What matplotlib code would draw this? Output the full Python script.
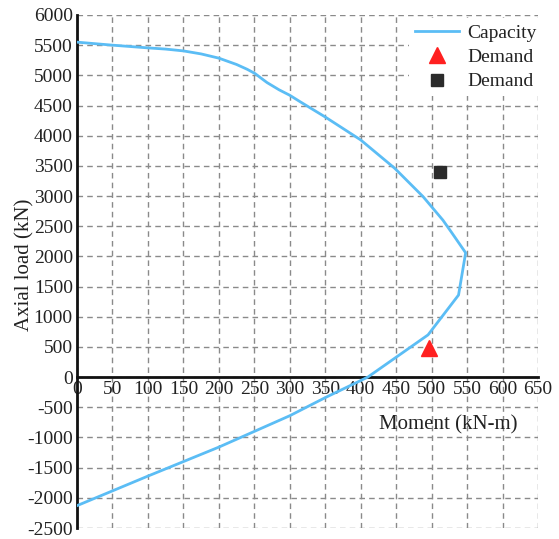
import matplotlib
matplotlib.use("Agg")
import matplotlib.pyplot as plt

# Capacity curve (moment kN-m, axial load kN)
cap_moment = [0, 50, 100, 125, 150, 175, 200, 225, 240, 251, 260, 268, 285,
              300, 315, 350, 400, 448, 488, 516, 528, 548, 538, 495, 410, 350,
              300, 200, 100, 0]
cap_axial = [5550, 5500, 5455, 5435, 5405, 5355, 5285, 5180, 5100, 5030, 4950,
             4880, 4760, 4670, 4560, 4310, 3930, 3460, 2990, 2600, 2400, 2060,
             1360, 700, 0, -340, -640, -1160, -1640, -2130]

demand1_moment = [496]
demand1_axial = [480]
demand2_moment = [512]
demand2_axial = [3400]

x_ticks = list(range(0, 651, 50))
y_ticks = list(range(-2500, 6001, 500))

plt.rcParams['font.family'] = ['Liberation Serif', 'DejaVu Serif']
plt.rcParams['axes.unicode_minus'] = False

fig = plt.figure(figsize=(5.59, 5.39), dpi=100)
ax = fig.add_axes([0.1377, 0.0204, 0.8247, 0.9518])

ax.plot(cap_moment, cap_axial, color='#5bbdf5', lw=2, label='Capacity', zorder=3)
ax.plot(demand1_moment, demand1_axial, '^', color='#ff2020', ms=12,
        ls='none', label='Demand', zorder=4)
ax.plot(demand2_moment, demand2_axial, 's', color='#2b2b2b', ms=9,
        ls='none', label='Demand', zorder=4)

ax.set_xlim(0, 650)
ax.set_ylim(-2500, 6000)
ax.set_xticks(x_ticks)
ax.set_yticks(y_ticks)
ax.grid(True, color='#8a8a8a', ls=(0, (4, 3)), lw=1)
ax.set_axisbelow(True)

ax.spines['left'].set_position(('data', 0))
ax.spines['bottom'].set_position(('data', 0))
ax.spines['top'].set_visible(False)
ax.spines['right'].set_visible(False)
for s in ['left', 'bottom']:
    ax.spines[s].set_linewidth(2)
    ax.spines[s].set_color('#111111')
ax.tick_params(length=0, pad=3, labelcolor='#222222', labelsize=14)

ax.text(0.805, 0.201, 'Moment (kN-m)', transform=ax.transAxes,
        ha='center', va='center', fontsize=15, color='#222222')
ax.text(-0.112, 0.513, 'Axial load (kN)', transform=ax.transAxes,
        ha='center', va='center', rotation=90, fontsize=15, color='#222222')

leg = ax.legend(loc='upper right', bbox_to_anchor=(1.009, 0.994),
                frameon=True, facecolor='white',
                edgecolor='none', framealpha=1, handlelength=2.27,
                fontsize=14, borderaxespad=0.0, labelspacing=0.35,
                handletextpad=0.4, borderpad=0.3)
for t in leg.get_texts():
    t.set_color('#222222')

fig.savefig('out.png', dpi=100)
